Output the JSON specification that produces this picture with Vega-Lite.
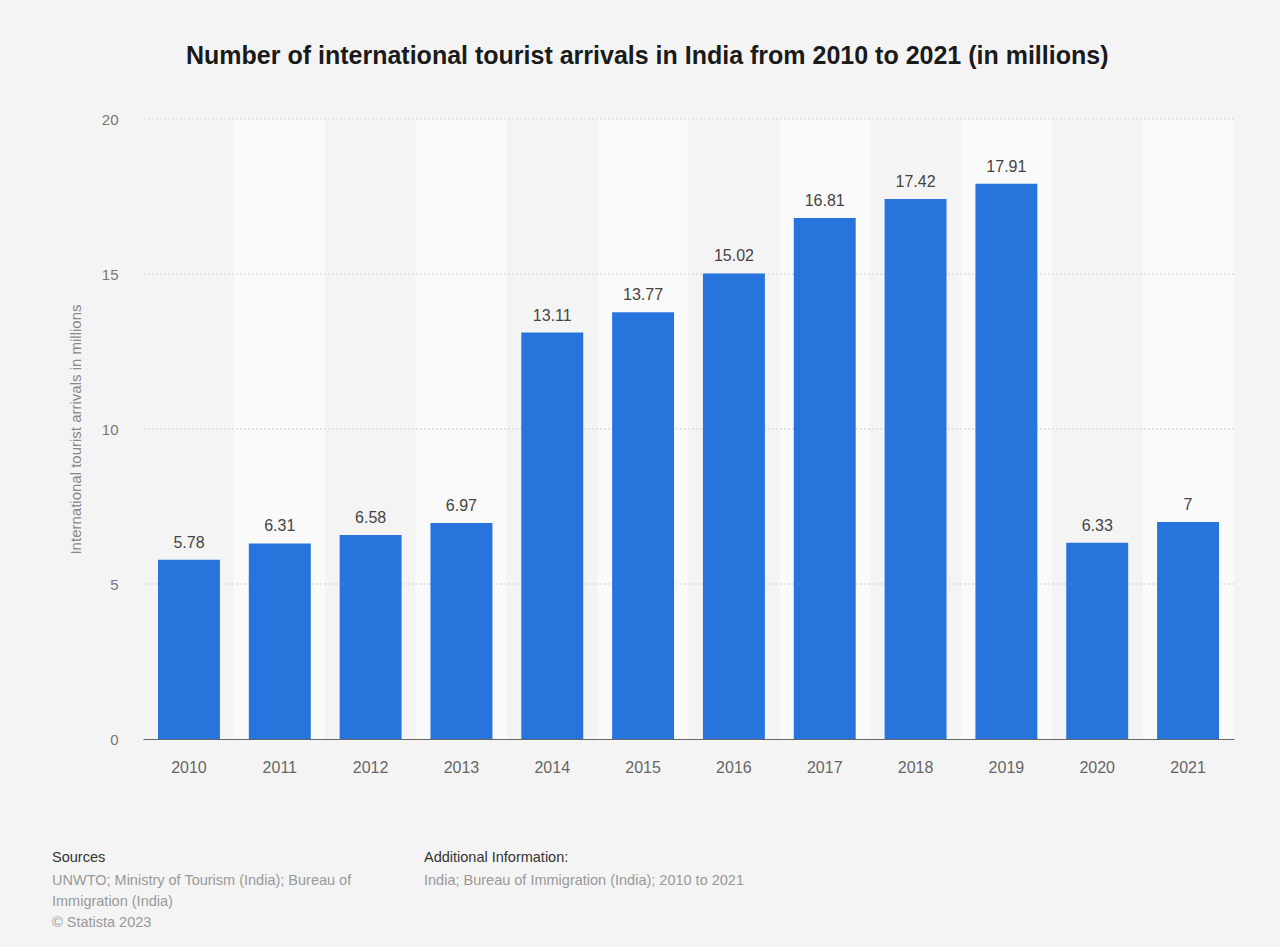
{
  "$schema": "https://vega.github.io/schema/vega-lite/v6.json",
  "background": "#f4f4f4",
  "padding": {"left": 52, "top": 44, "right": 47, "bottom": 18},
  "config": {
    "font": "Liberation Sans",
    "view": {"stroke": null},
    "concat": {"spacing": 75}
  },
  "title": {
    "text": "Number of international tourist arrivals in India from 2010 to 2021 (in millions)",
    "fontSize": 25,
    "fontWeight": "bold",
    "color": "#1a1a1a",
    "anchor": "middle",
    "dx": 4,
    "offset": 43
  },
  "datasets": {
    "arrivals": [
      {"year": "2010", "value": 5.78},
      {"year": "2011", "value": 6.31},
      {"year": "2012", "value": 6.58},
      {"year": "2013", "value": 6.97},
      {"year": "2014", "value": 13.11},
      {"year": "2015", "value": 13.77},
      {"year": "2016", "value": 15.02},
      {"year": "2017", "value": 16.81},
      {"year": "2018", "value": 17.42},
      {"year": "2019", "value": 17.91},
      {"year": "2020", "value": 6.33},
      {"year": "2021", "value": 7}
    ]
  },
  "vconcat": [
    {
      "width": 1091,
      "height": 620,
      "data": {"name": "arrivals"},
      "layer": [
        {
          "transform": [{"filter": "toNumber(datum.year) % 2 == 1"}],
          "mark": {"type": "rect", "color": "#fafafa"},
          "encoding": {
            "x": {
              "field": "year",
              "type": "nominal",
              "scale": {"domain": ["2010","2011","2012","2013","2014","2015","2016","2017","2018","2019","2020","2021"], "paddingInner": 0, "paddingOuter": 0},
              "axis": null
            },
            "y": {"datum": 20, "type": "quantitative", "scale": {"domain": [0, 20]}},
            "y2": {"datum": 0}
          }
        },
        {
          "data": {"values": [{}]},
          "mark": {"type": "rule", "color": "#cfcfcf", "strokeDash": [2, 2], "strokeWidth": 1},
          "encoding": {"y": {"datum": 5, "type": "quantitative"}}
        },
        {
          "data": {"values": [{}]},
          "mark": {"type": "rule", "color": "#cfcfcf", "strokeDash": [2, 2], "strokeWidth": 1},
          "encoding": {"y": {"datum": 10, "type": "quantitative"}}
        },
        {
          "data": {"values": [{}]},
          "mark": {"type": "rule", "color": "#cfcfcf", "strokeDash": [2, 2], "strokeWidth": 1},
          "encoding": {"y": {"datum": 15, "type": "quantitative"}}
        },
        {
          "data": {"values": [{}]},
          "mark": {"type": "rule", "color": "#d6d6d6", "strokeDash": [2, 2], "strokeWidth": 1},
          "encoding": {"y": {"datum": 20, "type": "quantitative"}}
        },
        {
          "layer": [
            {
              "mark": {"type": "bar", "color": "#2775dc"},
              "encoding": {
                "x": {
                  "field": "year",
                  "type": "nominal",
                  "scale": {"paddingInner": 0.318, "paddingOuter": 0.165},
                  "axis": {
                    "title": null,
                    "labelAngle": 0,
                    "labelFontSize": 16,
                    "labelColor": "#666",
                    "labelPadding": 20,
                    "ticks": false,
                    "domainColor": "#666",
                    "domainWidth": 1
                  }
                },
                "y": {
                  "field": "value",
                  "type": "quantitative",
                  "scale": {"domain": [0, 20]},
                  "axis": {
                    "title": "International tourist arrivals in millions",
                    "titleFontSize": 15,
                    "titleFontWeight": "normal",
                    "titleColor": "#888",
                    "titlePadding": 18,
                    "values": [0, 5, 10, 15, 20],
                    "labelFontSize": 15,
                    "labelColor": "#777",
                    "labelPadding": 25,
                    "domain": false,
                    "ticks": false,
                    "grid": false
                  }
                }
              }
            },
            {
              "mark": {"type": "text", "dy": -9, "fontSize": 16, "color": "#444", "baseline": "bottom"},
              "encoding": {
                "x": {"field": "year", "type": "nominal"},
                "y": {"field": "value", "type": "quantitative"},
                "text": {"field": "value", "type": "quantitative"}
              }
            }
          ]
        }
      ],
      "resolve": {"scale": {"x": "independent"}}
    },
    {
      "hconcat": [
        {
          "data": {"values": []},
          "mark": "point",
          "width": 261,
          "height": 1,
          "title": {
            "text": "Sources",
            "subtitle": ["UNWTO; Ministry of Tourism (India); Bureau of", "Immigration (India)", "© Statista 2023"],
            "orient": "bottom",
            "anchor": "start",
            "offset": 0,
            "dx": -91,
            "fontSize": 14.5,
            "fontWeight": "normal",
            "color": "#333",
            "subtitleColor": "#999",
            "subtitleFontSize": 14.5,
            "subtitleLineHeight": 21,
            "subtitlePadding": 8
          }
        },
        {
          "data": {"values": []},
          "mark": "point",
          "width": 500,
          "height": 1,
          "title": {
            "text": "Additional Information:",
            "subtitle": ["India; Bureau of Immigration (India); 2010 to 2021"],
            "orient": "bottom",
            "anchor": "start",
            "offset": 0,
            "fontSize": 14.5,
            "fontWeight": "normal",
            "color": "#333",
            "subtitleColor": "#999",
            "subtitleFontSize": 14.5,
            "subtitleLineHeight": 21,
            "subtitlePadding": 8
          }
        }
      ],
      "spacing": 20
    }
  ]
}
